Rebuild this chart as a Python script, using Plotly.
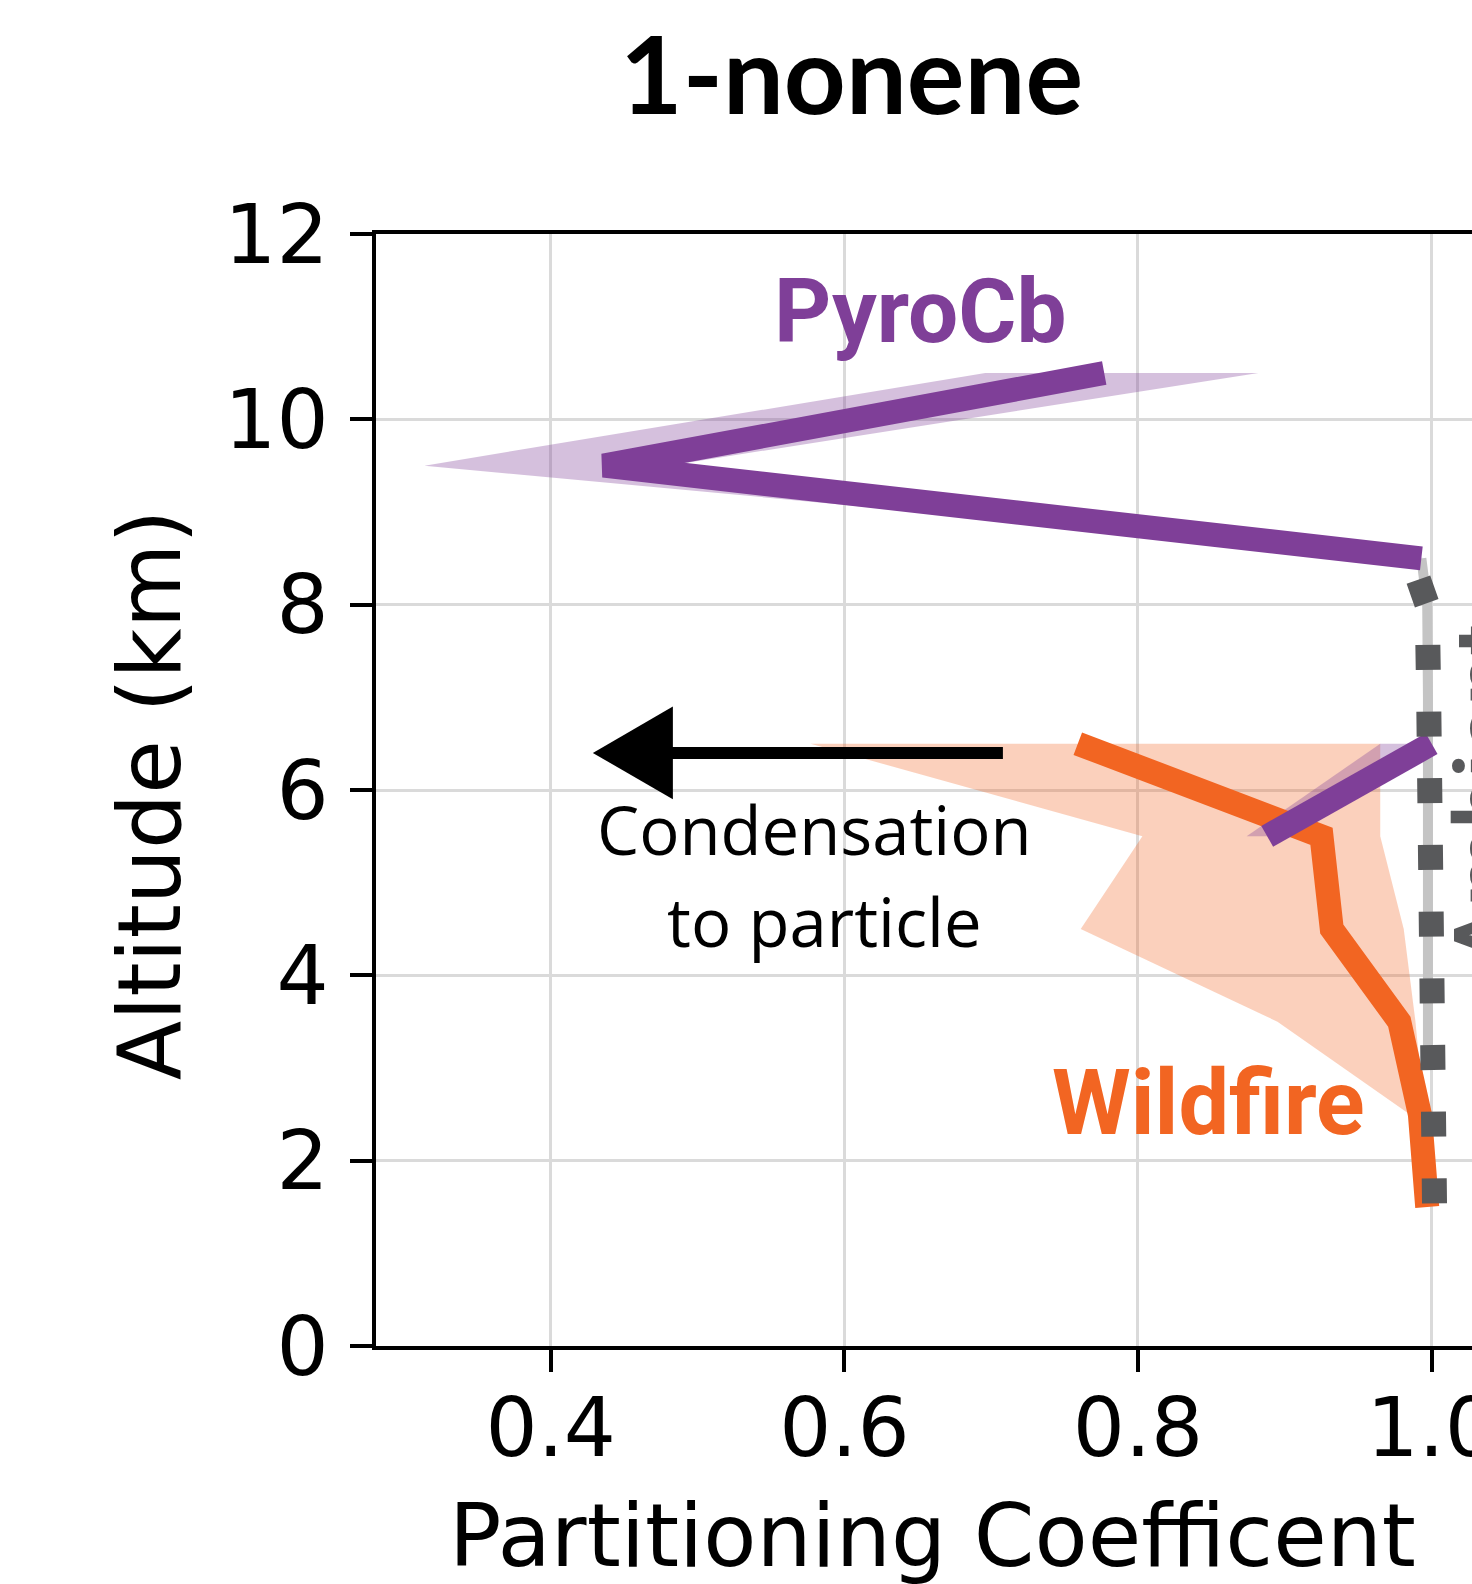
import plotly.graph_objects as go

# ---- data: partitioning coefficient vs altitude (km) ----
pyro_upper_alt = [10.5, 9.5, 8.5]
pyro_upper_mean = [0.777, 0.436, 0.993]
pyro_upper_low = [0.696, 0.314, 0.990]
pyro_upper_high = [0.882, 0.480, 0.996]

pyro_lower_alt = [6.5, 5.5]
pyro_lower_mean = [1.000, 0.888]
pyro_lower_low = [0.965, 0.874]
pyro_lower_high = [1.000, 0.892]

wild_alt = [6.5, 5.5, 4.5, 3.5, 2.5, 1.5]
wild_mean = [0.759, 0.925, 0.932, 0.978, 0.992, 0.997]
wild_low = [0.577, 0.803, 0.761, 0.895, 0.985, 0.997]
wild_high = [0.965, 0.965, 0.981, 0.989, 0.995, 0.997]

ambient_alt = [8.27, 8.0, 7.0, 6.0, 5.0, 4.0, 3.4, 3.0, 2.5, 2.0, 1.5]
ambient_val = [0.991, 0.997, 0.998, 0.998, 0.998, 0.998, 0.998, 0.9985, 0.999, 1.0, 1.002]

ambient_band_alt = [8.5, 8.0, 7.0, 6.0, 5.0, 4.0, 3.0]
ambient_band_val = [0.993, 0.997, 0.9975, 0.9975, 0.9975, 0.9975, 0.9975]

x_ticks = [0.4, 0.6, 0.8, 1.0]
x_tick_text = ["0.4", "0.6", "0.8", "1.0"]
y_ticks = [0, 2, 4, 6, 8, 10, 12]
y_tick_text = ["0", "2", "4", "6", "8", "10", "12"]

# arrow annotation geometry (data units)
ARROW_Y = 6.40
ARROW_TAIL_X = 0.708
ARROW_TIP_X = 0.4287
ARROW_BACK_X = 0.4832
ARROW_HALF_H = 0.50

PURPLE = "#7F3F98"
PURPLE_FILL = "rgba(127,63,152,0.33)"
ORANGE = "#F26522"
ORANGE_FILL = "rgba(242,101,34,0.30)"
DARK_GRAY = "#58595B"
LIGHT_GRAY = "#C4C4C4"


def band(alt, low, high):
    return low + high[::-1], alt + alt[::-1]


fig = go.Figure()

bx, by = band(wild_alt, wild_low, wild_high)
fig.add_trace(go.Scatter(x=bx, y=by, fill="toself", fillcolor=ORANGE_FILL,
                         line=dict(width=0), mode="lines", hoverinfo="skip"))
bx, by = band(pyro_upper_alt, pyro_upper_low, pyro_upper_high)
fig.add_trace(go.Scatter(x=bx, y=by, fill="toself", fillcolor=PURPLE_FILL,
                         line=dict(width=0), mode="lines", hoverinfo="skip"))
bx, by = band(pyro_lower_alt, pyro_lower_low, pyro_lower_high)
fig.add_trace(go.Scatter(x=bx, y=by, fill="toself", fillcolor=PURPLE_FILL,
                         line=dict(width=0), mode="lines", hoverinfo="skip"))

fig.add_trace(go.Scatter(x=ambient_band_val, y=ambient_band_alt, mode="lines",
                         line=dict(color=LIGHT_GRAY, width=10)))
fig.add_trace(go.Scatter(x=wild_mean, y=wild_alt, mode="lines",
                         line=dict(color=ORANGE, width=24)))
fig.add_trace(go.Scatter(x=pyro_upper_mean, y=pyro_upper_alt, mode="lines",
                         line=dict(color=PURPLE, width=24)))
fig.add_trace(go.Scatter(x=pyro_lower_mean, y=pyro_lower_alt, mode="lines",
                         line=dict(color=PURPLE, width=24)))
fig.add_trace(go.Scatter(x=ambient_val, y=ambient_alt, mode="lines",
                         line=dict(color=DARK_GRAY, width=25, dash="25px,41.7px")))

# condensation arrow
fig.add_shape(type="line", x0=ARROW_TAIL_X, x1=ARROW_BACK_X - 0.002, y0=ARROW_Y, y1=ARROW_Y,
              line=dict(color="black", width=12), layer="above")
fig.add_shape(type="path",
              path=f"M {ARROW_TIP_X} {ARROW_Y} L {ARROW_BACK_X} {ARROW_Y + ARROW_HALF_H} "
                   f"L {ARROW_BACK_X} {ARROW_Y - ARROW_HALF_H} Z",
              fillcolor="black", line=dict(width=0), layer="above")

ann = []
ann.append(dict(x=0.6516, y=11.16, xref="x", yref="y", text="<b>PyroCb</b>", showarrow=False,
                font=dict(family="Roboto", size=89, color=PURPLE), xanchor="center", yanchor="middle"))
ann.append(dict(x=0.8478, y=2.62, xref="x", yref="y", text="<b>Wildfire</b>", showarrow=False,
                font=dict(family="Roboto", size=90, color=ORANGE), xanchor="center", yanchor="middle"))
ann.append(dict(x=1.0, y=5.95, xref="x", yref="y", xshift=57, text="<b>Ambient</b>", showarrow=False,
                textangle=-90,
                font=dict(family="Roboto", size=90, color=DARK_GRAY), xanchor="center", yanchor="middle"))
ann.append(dict(x=0.5794, y=5.58, xref="x", yref="y", text="Condensation", showarrow=False,
                font=dict(family="Open Sans", size=67, color="black"), xanchor="center", yanchor="middle"))
ann.append(dict(x=0.5862, y=4.585, xref="x", yref="y", text="to particle", showarrow=False,
                font=dict(family="Open Sans", size=67, color="black"), xanchor="center", yanchor="middle"))
ann.append(dict(x=0.5074, y=-0.1712, xref="paper", yref="paper", text="Partitioning Coefficent",
                showarrow=False, font=dict(family="DejaVu Sans", size=87, color="black"),
                xanchor="center", yanchor="middle"))
ann.append(dict(x=-0.206, y=0.4955, xref="paper", yref="paper", text="Altitude (km)", textangle=-90,
                showarrow=False, font=dict(family="DejaVu Sans", size=87, color="black"),
                xanchor="center", yanchor="middle"))

fig.update_layout(
    width=1472, height=1584,
    margin=dict(l=376, r=0, t=234, b=238, pad=0, autoexpand=False),
    paper_bgcolor="white", plot_bgcolor="white",
    showlegend=False,
    title=dict(text="<b>1-nonene</b>", x=0.5785, xanchor="center", y=0.952, yanchor="middle",
               font=dict(family="Lato", size=108, color="black")),
    annotations=ann,
)

fig.update_xaxes(
    range=[0.281, 1.0275], tickvals=x_ticks, ticktext=x_tick_text,
    showline=True, linecolor="black", linewidth=4, mirror=True,
    ticks="outside", ticklen=22, tickwidth=4, tickcolor="black",
    showgrid=True, gridcolor="#DADADA", gridwidth=3, zeroline=False,
    tickfont=dict(family="DejaVu Sans", size=82, color="black"),
    ticklabelstandoff=-14, ticklabeloverflow="allow", automargin=False,
)
fig.update_yaxes(
    range=[0, 12], tickvals=y_ticks, ticktext=y_tick_text,
    showline=True, linecolor="black", linewidth=4, mirror=False,
    ticks="outside", ticklen=22, tickwidth=4, tickcolor="black",
    showgrid=True, gridcolor="#DADADA", gridwidth=3, zeroline=False,
    tickfont=dict(family="DejaVu Sans", size=82, color="black"),
    ticklabelstandoff=5, automargin=False,
)

fig.write_html("out.html")
